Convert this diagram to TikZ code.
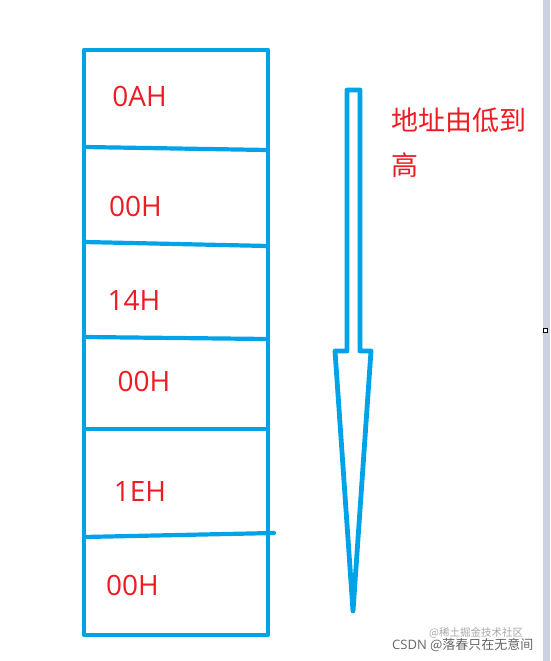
\documentclass[tikz,border=0pt]{standalone}
\usepackage{fontspec}
\setmainfont{Open Sans}
\newfontfamily\cjk{Noto Sans CJK SC}
\definecolor{penblue}{RGB}{0,162,232}
\definecolor{penred}{RGB}{237,28,36}
\definecolor{barcol}{RGB}{204,210,226}
\begin{document}
\begin{tikzpicture}[x=1pt,y=-1pt,
    pen/.style={penblue, line width=4.2pt, line join=round, line cap=round},
    val/.style={penred, inner sep=0pt, font=\fontsize{28}{30}\selectfont},
    note/.style={inner sep=0pt, anchor=west}]
  \useasboundingbox (0,0) rectangle (550,661);
  \fill[barcol] (543,0) rectangle (550,661);
  \draw[black, line width=0.5pt, fill=white] (543,328) rectangle (547,332);
  % the column of bytes
  \draw[pen] (84,50) rectangle (268,635);
  \draw[pen] (84,147) -- (268,150);
  \draw[pen] (84,242) -- (268,246);
  \draw[pen] (84,337) -- (268,339);
  \draw[pen] (84,429) -- (268,429);
  \draw[pen] (84,537) -- (274,533);
  \node[val] (v1) at (139.5,96) {0AH};
  \node[val] (v2) at (135.5,206) {00H};
  \node[val] (v3) at (134,300) {14H};
  \node[val] (v4) at (144,381) {00H};
  \node[val] (v5) at (140,492) {1EH};
  \node[val] (v6) at (132.5,585) {00H};
  % the arrow
  \draw[pen, line width=4.8pt] (347,90) -- (360,90) -- (360,351) -- (371,351)
    -- (353,611) -- (335,351) -- (347,351) -- cycle;
  \node[note, penred, font=\cjk\fontsize{27}{30}\selectfont] (dir) at (391,120) {地址由低到};
  \node[note, penred, font=\cjk\fontsize{27}{30}\selectfont] (dir2) at (391,165) {高};
  \node[note, black!35, font=\cjk\fontsize{10.5}{12}\selectfont] (wm1) at (429,633) {@稀土掘金技术社区};
  \node[note, black!60, font=\fontsize{13}{14}\selectfont] (wm2) at (392,645) {CSDN {\cjk @落春只在无意间}};
\end{tikzpicture}
\end{document}
